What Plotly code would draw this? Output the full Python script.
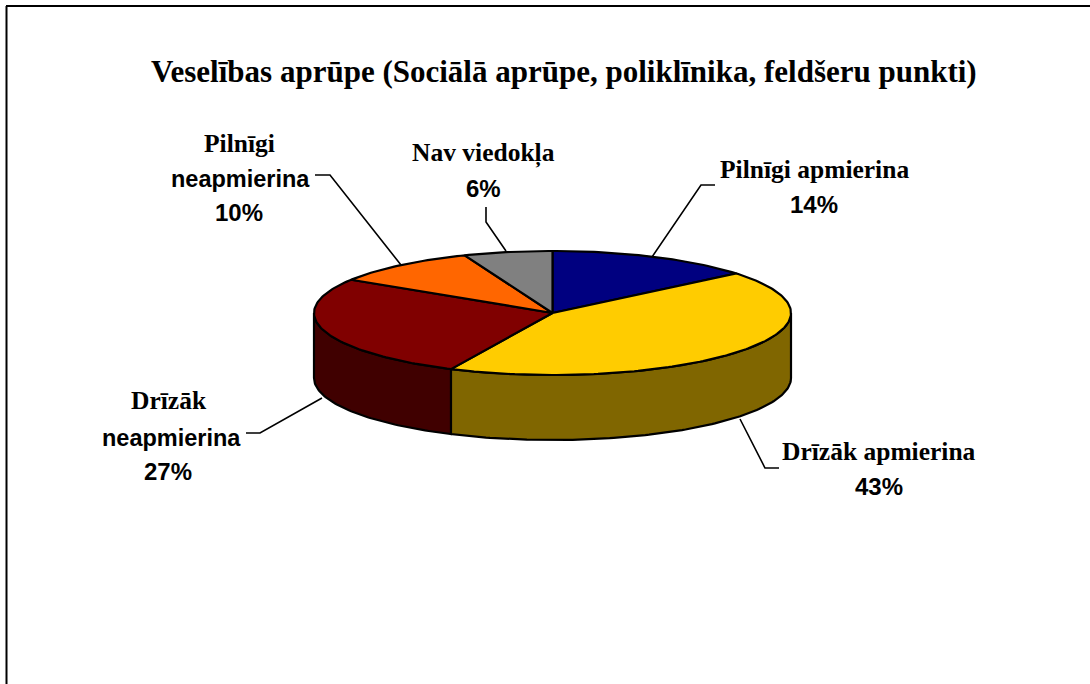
import numpy as np
import plotly.graph_objects as go

TITLE = "Veselības aprūpe (Sociālā aprūpe, poliklīnika, feldšeru punkti)"
categories = ["Pilnīgi apmierina", "Drīzāk apmierina", "Drīzāk neapmierina", "Pilnīgi neapmierina", "Nav viedokļa"]
values = [14, 43, 27, 10, 6]
top_colors = ["#000080", "#FFCC00", "#800000", "#FF6600", "#808080"]
side_colors = ["#000040", "#806600", "#400000", "#803300", "#404040"]

# chart geometry, in page pixels
CX, CY, RX, RY, DEPTH = 552.5, 313.0, 238.5, 62.0, 65.0
SERIF = "Liberation Serif"
SANS = "Liberation Sans"
SERIF_SIZE = 25.5
SANS_SIZE = 24


def rim(a0, a1, dy=0.0):
    t = np.radians(np.linspace(a0, a1, max(int(abs(a1 - a0)), 2) + 1))
    return CX + RX * np.sin(t), CY + dy - RY * np.cos(t)


fig = go.Figure()

edges = np.cumsum([0] + values) / sum(values) * 360.0

# sides (front half of the disc only)
for i in range(len(values)):
    a0, a1 = max(edges[i], 90.0), min(edges[i + 1], 270.0)
    if a1 <= a0:
        continue
    xt, yt = rim(a0, a1)
    xb, yb = rim(a1, a0, DEPTH)
    fig.add_trace(go.Scatter(
        x=np.r_[xt, xb, xt[0]], y=np.r_[yt, yb, yt[0]],
        mode="lines", fill="toself", fillcolor=side_colors[i],
        line=dict(color="#000000", width=2.2), hoverinfo="skip", showlegend=False))

# top faces
for i in range(len(values)):
    xt, yt = rim(edges[i], edges[i + 1])
    fig.add_trace(go.Scatter(
        x=np.r_[CX, xt, CX], y=np.r_[CY, yt, CY],
        mode="lines", fill="toself", fillcolor=top_colors[i],
        line=dict(color="#000000", width=2.2), hoverinfo="skip", showlegend=False))

# leader lines, one per category
leaders = [
    ([652, 701, 715], [257, 185, 185]),
    ([740, 765, 779], [419, 468, 468]),
    ([322, 260, 246], [398, 433, 433]),
    ([401, 330, 315], [265, 175, 175]),
    ([506, 486, 486], [251, 222, 207]),
]
for lx, ly in leaders:
    fig.add_trace(go.Scatter(x=lx, y=ly, mode="lines", line=dict(color="#000000", width=1.6),
                             hoverinfo="skip", showlegend=False))

# label lines: text, x centre, y middle, family, size
label_lines = [
    ("Pilnīgi apmierina", 814, 169, SERIF, SERIF_SIZE),
    (f"{values[0]}%", 814, 204, SANS, SANS_SIZE),
    ("Drīzāk apmierina", 879, 451, SERIF, SERIF_SIZE),
    (f"{values[1]}%", 879, 486, SANS, SANS_SIZE),
    ("Drīzāk", 169, 400, SERIF, SERIF_SIZE),
    ("neapmierina", 171, 438, SANS, 23.5),
    (f"{values[2]}%", 168, 471, SANS, SANS_SIZE),
    ("Pilnīgi", 239, 143, SERIF, SERIF_SIZE),
    ("neapmierina", 240, 179, SANS, 23.5),
    (f"{values[3]}%", 239, 212, SANS, SANS_SIZE),
    ("Nav viedokļa", 483, 153, SERIF, SERIF_SIZE),
    (f"{values[4]}%", 483, 188, SANS, SANS_SIZE),
]
annotations = [dict(text=f"<b>{t}</b>", x=x, y=y, xref="x", yref="y", showarrow=False,
                    xanchor="center", yanchor="middle",
                    font=dict(family=fam, size=size, color="#000000"))
               for t, x, y, fam, size in label_lines]
annotations.append(dict(text=f"<b>{TITLE}</b>", x=564, y=71, xref="x", yref="y", showarrow=False,
                        xanchor="center", yanchor="middle",
                        font=dict(family=SERIF, size=31, color="#000000")))

fig.update_layout(
    width=1090, height=684, margin=dict(l=0, r=0, t=0, b=0),
    paper_bgcolor="#FFFFFF", plot_bgcolor="#FFFFFF", showlegend=False,
    xaxis=dict(range=[0, 1090], visible=False, fixedrange=True),
    yaxis=dict(range=[684, 0], visible=False, fixedrange=True),
    annotations=annotations,
    shapes=[
        dict(type="line", xref="x", yref="y", x0=6.5, y0=6, x1=6.5, y1=684, line=dict(color="#000000", width=2)),
        dict(type="line", xref="x", yref="y", x0=6, y0=6, x1=1090, y1=6, line=dict(color="#000000", width=2)),
    ],
)

fig.write_html("out.html", config=dict(displayModeBar=False),
               post_script="document.body.style.margin='0';")
